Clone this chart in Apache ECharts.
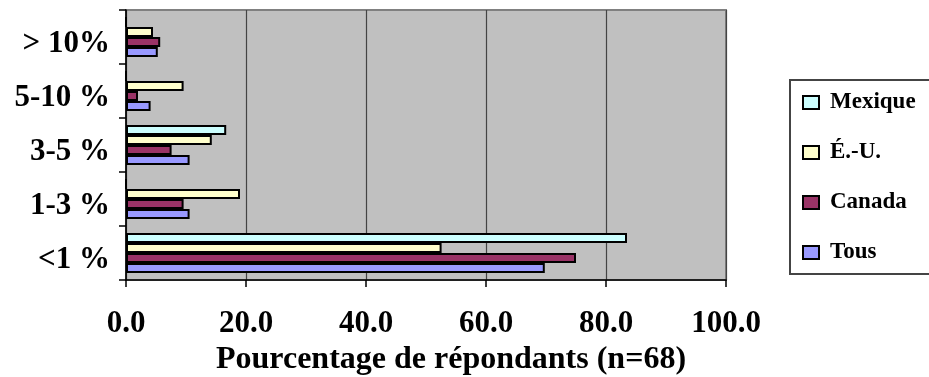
<!DOCTYPE html>
<html>
<head>
<meta charset="utf-8">
<script src="https://cdn.jsdelivr.net/npm/echarts@6/dist/echarts.min.js"></script>
<style>html,body{margin:0;padding:0;background:#fff}#c{width:929px;height:377px}</style>
</head>
<body>
<div id="c"></div>
<script>
const categories = ['<1 %', '1-3 %', '3-5 %', '5-10 %', '> 10%'];
const mexique = [83.5, 0, 16.7, 0, 0];
const eu = [52.6, 19.0, 14.3, 9.6, 4.5];
const canada = [75.0, 9.6, 7.6, 2.0, 5.7];
const tous = [69.8, 10.6, 10.6, 4.1, 5.3];
const seriesNames = ['Mexique', 'É.-U.', 'Canada', 'Tous'];
const seriesColors = ['#CCFFFF', '#FFFFCC', '#993366', '#9999FF'];
const xTicks = [0, 20, 40, 60, 80, 100];
const xTitle = 'Pourcentage de répondants (n=68)';

const font = 'Liberation Serif';
const chart = echarts.init(document.getElementById('c'), null, {renderer: 'canvas'});
const values = [mexique, eu, canada, tous];
chart.setOption({
  animation: false,
  grid: {left: 126, top: 10, right: 203, bottom: 97, outerBoundsMode: 'none', containLabel: false,
    show: true, backgroundColor: '#C0C0C0', borderColor: '#808080', borderWidth: 2},
  legend: {
    orient: 'vertical', left: 790, top: 80,
    padding: [11, 60, 10, 12],
    itemGap: 27, itemWidth: 16, itemHeight: 13, icon: 'rect',
    backgroundColor: '#fff', borderColor: '#444', borderWidth: 2,
    textStyle: {fontFamily: font, fontWeight: 'bold', fontSize: 23, color: '#000', padding: [0, 0, 0, 6]},
    data: seriesNames
  },
  xAxis: {
    type: 'value', min: xTicks[0], max: xTicks[xTicks.length - 1], interval: 20,
    axisLine: {show: true, lineStyle: {color: '#000', width: 1.5}},
    axisTick: {show: true, length: 7, lineStyle: {color: '#000', width: 1.5}},
    splitLine: {show: true, lineStyle: {color: '#444', width: 1.2}},
    axisLabel: {fontFamily: font, fontWeight: 'bold', fontSize: 31, color: '#000', margin: 28,
      formatter: v => v.toFixed(1)},
    name: xTitle, nameLocation: 'middle', nameGap: 53,
    nameTextStyle: {fontFamily: font, fontWeight: 'bold', fontSize: 32, color: '#000', padding: [0, 0, 0, 50]}
  },
  yAxis: {
    type: 'category', data: categories,
    axisLine: {show: true, lineStyle: {color: '#000', width: 1.5}},
    axisTick: {show: true, length: 7, lineStyle: {color: '#000', width: 1.5}},
    splitLine: {show: false},
    axisLabel: {fontFamily: font, fontWeight: 'bold', fontSize: 31, color: '#000', margin: 16,
      verticalAlign: 'top', lineHeight: 13}
  },
  series: seriesNames.map((n, i) => ({
    name: n, type: 'bar', data: values[i],
    barCategoryGap: '26%', barGap: '0%',
    itemStyle: {color: seriesColors[i], borderColor: '#000', borderWidth: 2},
  }))
});
</script>
</body>
</html>
